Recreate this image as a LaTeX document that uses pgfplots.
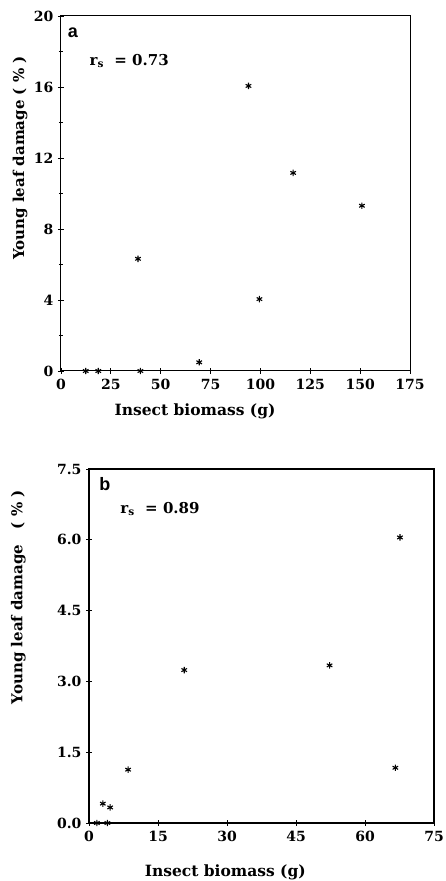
\documentclass[border=0pt]{standalone}
\usepackage{fontspec}
\setmainfont{DejaVu Serif}
\newfontfamily\sansb{Liberation Sans}
\usepackage{pgfplots}
\pgfplotsset{compat=1.18}
\begin{document}
\begin{tikzpicture}[x=1pt,y=1pt]
\useasboundingbox (0,0) rectangle (446,881);
\pgfplotsset{
  myax/.style={
    scale only axis, anchor=south west,
    axis line style={line width=1pt},
    tick style={line width=0.8pt, black},
    tick align=center,
    major tick length=6pt, minor tick length=4pt,
    xtick pos=bottom, ytick pos=left,
    clip=false,
    tick label style={font=\fontsize{14}{14}\selectfont\bfseries},
    /pgf/number format/assume math mode=true,
    xticklabel style={yshift=-2pt},
    yticklabel style={xshift=-1pt},
  },
  stars/.style={only marks, mark=asterisk, mark size=3.2pt, black, line width=1.1pt},
}
% Panel a
\begin{axis}[myax, at={(61pt,510pt)}, width=349pt, height=355pt,
  xmin=0, xmax=175, ymin=0, ymax=20,
  xtick={0,25,50,75,100,125,150,175},
  ytick={0,4,8,12,16,20}, minor ytick={2,6,10,14,18},
]
\addplot[stars] coordinates {
 (12.4,0) (18.7,0) (39.8,0) (38.6,6.32) (69.3,0.49) (94.0,16.06)
 (99.5,4.05) (116.4,11.16) (150.9,9.31)
};
\node[font=\sansb\fontsize{18}{18}\selectfont\bfseries] at (rel axis cs:0.034,0.952) {a};
\node[anchor=west, font=\fontsize{15}{15}\selectfont\bfseries] at (rel axis cs:0.072,0.873) {r\textsubscript{s} \ =\ 0.73};
\node[font=\fontsize{15.5}{15.5}\selectfont\bfseries] at (rel axis cs:0.384,-0.113) {Insect biomass (g)};
\node[rotate=90, font=\fontsize{15}{15}\selectfont\bfseries] at (rel axis cs:-0.117,0.60) {Young leaf damage (\ \%\ )};
\end{axis}
% Panel b
\begin{axis}[myax, at={(89pt,58pt)}, width=345pt, height=354pt,
  xmin=0, xmax=75, ymin=0, ymax=7.5,
  xtick={0,15,30,45,60,75},
  ytick={0,1.5,3,4.5,6,7.5},
  yticklabel style={/pgf/number format/.cd, fixed, fixed zerofill, precision=1},
  axis line style={line width=1.3pt},
]
\addplot[stars] coordinates {
 (1.7,0) (4.0,0) (3.0,0.41) (4.6,0.33) (8.5,1.13) (20.7,3.24)
 (52.3,3.34) (66.6,1.17) (67.6,6.05)
};
\node[font=\sansb\fontsize{18}{18}\selectfont\bfseries] at (rel axis cs:0.046,0.958) {b};
\node[anchor=west, font=\fontsize{15}{15}\selectfont\bfseries] at (rel axis cs:0.081,0.887) {r\textsubscript{s} \ =\ 0.89};
\node[font=\fontsize{15.5}{15.5}\selectfont\bfseries] at (rel axis cs:0.395,-0.138) {Insect biomass (g)};
\node[rotate=90, font=\fontsize{15}{15}\selectfont\bfseries] at (rel axis cs:-0.205,0.638) {Young leaf damage \ \ (\ \%\ )};
\end{axis}
\end{tikzpicture}
\end{document}
